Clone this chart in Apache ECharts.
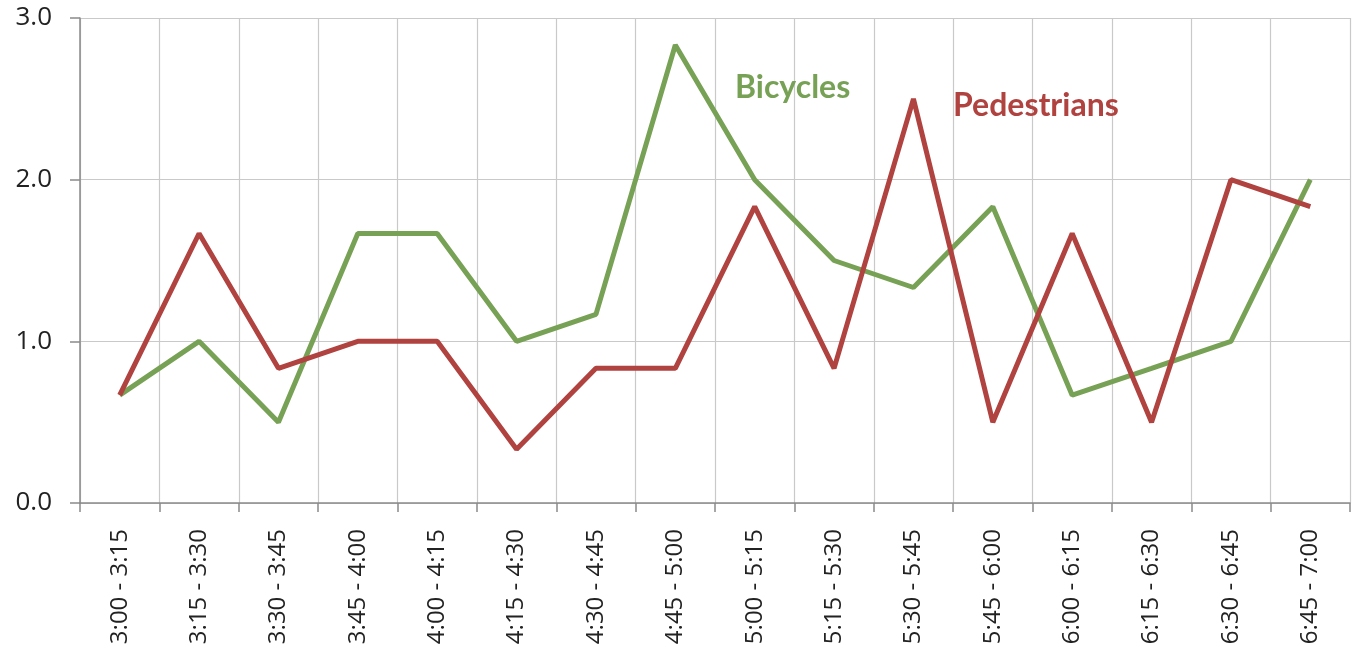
<!DOCTYPE html>
<html>
<head>
<meta charset="utf-8">
<script src="https://cdn.jsdelivr.net/npm/echarts@6/dist/echarts.min.js"></script>
<style>
  html, body { margin: 0; padding: 0; background: #fff; }
  #chart { width: 1353px; height: 663px; }
</style>
</head>
<body>
<div id="chart"></div>
<script>
// time slots (15 minute intervals)
var categories = ['3:00 - 3:15', '3:15 - 3:30', '3:30 - 3:45', '3:45 - 4:00', '4:00 - 4:15', '4:15 - 4:30',
    '4:30 - 4:45', '4:45 - 5:00', '5:00 - 5:15', '5:15 - 5:30', '5:30 - 5:45', '5:45 - 6:00',
    '6:00 - 6:15', '6:15 - 6:30', '6:30 - 6:45', '6:45 - 7:00'];
var bicycles = [0.667, 1.0, 0.5, 1.667, 1.667, 1.0, 1.167, 2.833, 2.0, 1.5, 1.333, 1.833, 0.667, 0.833, 1.0, 2.0];
var pedestrians = [0.667, 1.667, 0.833, 1.0, 1.0, 0.333, 0.833, 0.833, 1.833, 0.833, 2.5, 0.5, 1.667, 0.5, 2.0, 1.833];
var yTicks = [0, 1, 2, 3];

var green = '#77a154';
var red = '#b0423f';
var font = '"Open Sans", Lato, sans-serif';

var myChart = echarts.init(document.getElementById('chart'));

var option = {
    animation: false,
    backgroundColor: '#fff',
    grid: { left: 80, right: 3, top: 18, bottom: 160 },
    xAxis: {
        type: 'category',
        data: categories,
        boundaryGap: true,
        axisLine: { lineStyle: { color: '#8a8a8a', width: 1.5 } },
        axisTick: { show: true, length: 9, lineStyle: { color: '#8a8a8a', width: 1.5 } },
        splitLine: { show: true, lineStyle: { color: '#c9c9c9', width: 1.2 } },
        axisLabel: {
            rotate: 90, interval: 0, margin: 26,
            color: '#222', fontSize: 24, fontFamily: font
        }
    },
    yAxis: {
        type: 'value',
        min: yTicks[0], max: yTicks[yTicks.length - 1], interval: 1,
        axisLine: { show: true, lineStyle: { color: '#8a8a8a', width: 1.5 } },
        axisTick: { show: true, length: 10, lineStyle: { color: '#8a8a8a', width: 1.5 } },
        splitLine: { show: true, lineStyle: { color: '#c9c9c9', width: 1.2 } },
        axisLabel: {
            margin: 28, color: '#222', fontSize: 26, fontFamily: font,
            formatter: function (v) { return v.toFixed(1); }
        }
    },
    series: [
        {
            name: 'Bicycles', type: 'line', data: bicycles,
            symbol: 'none', lineStyle: { color: green, width: 5 }, z: 3
        },
        {
            name: 'Pedestrians', type: 'line', data: pedestrians,
            symbol: 'none', lineStyle: { color: red, width: 5 }, z: 4
        }
    ],
    graphic: [
        {
            type: 'text', left: 735, top: 72, z: 10,
            style: {
                text: 'Bicycles', fill: green, font: 'bold 32px Lato, sans-serif',
                shadowColor: 'rgba(0,0,0,0.35)', shadowBlur: 6, shadowOffsetX: 2, shadowOffsetY: 3
            }
        },
        {
            type: 'text', left: 953, top: 90, z: 10,
            style: {
                text: 'Pedestrians', fill: red, font: 'bold 32px Lato, sans-serif',
                shadowColor: 'rgba(0,0,0,0.35)', shadowBlur: 6, shadowOffsetX: 2, shadowOffsetY: 3
            }
        }
    ]
};

myChart.setOption(option);
</script>
</body>
</html>
